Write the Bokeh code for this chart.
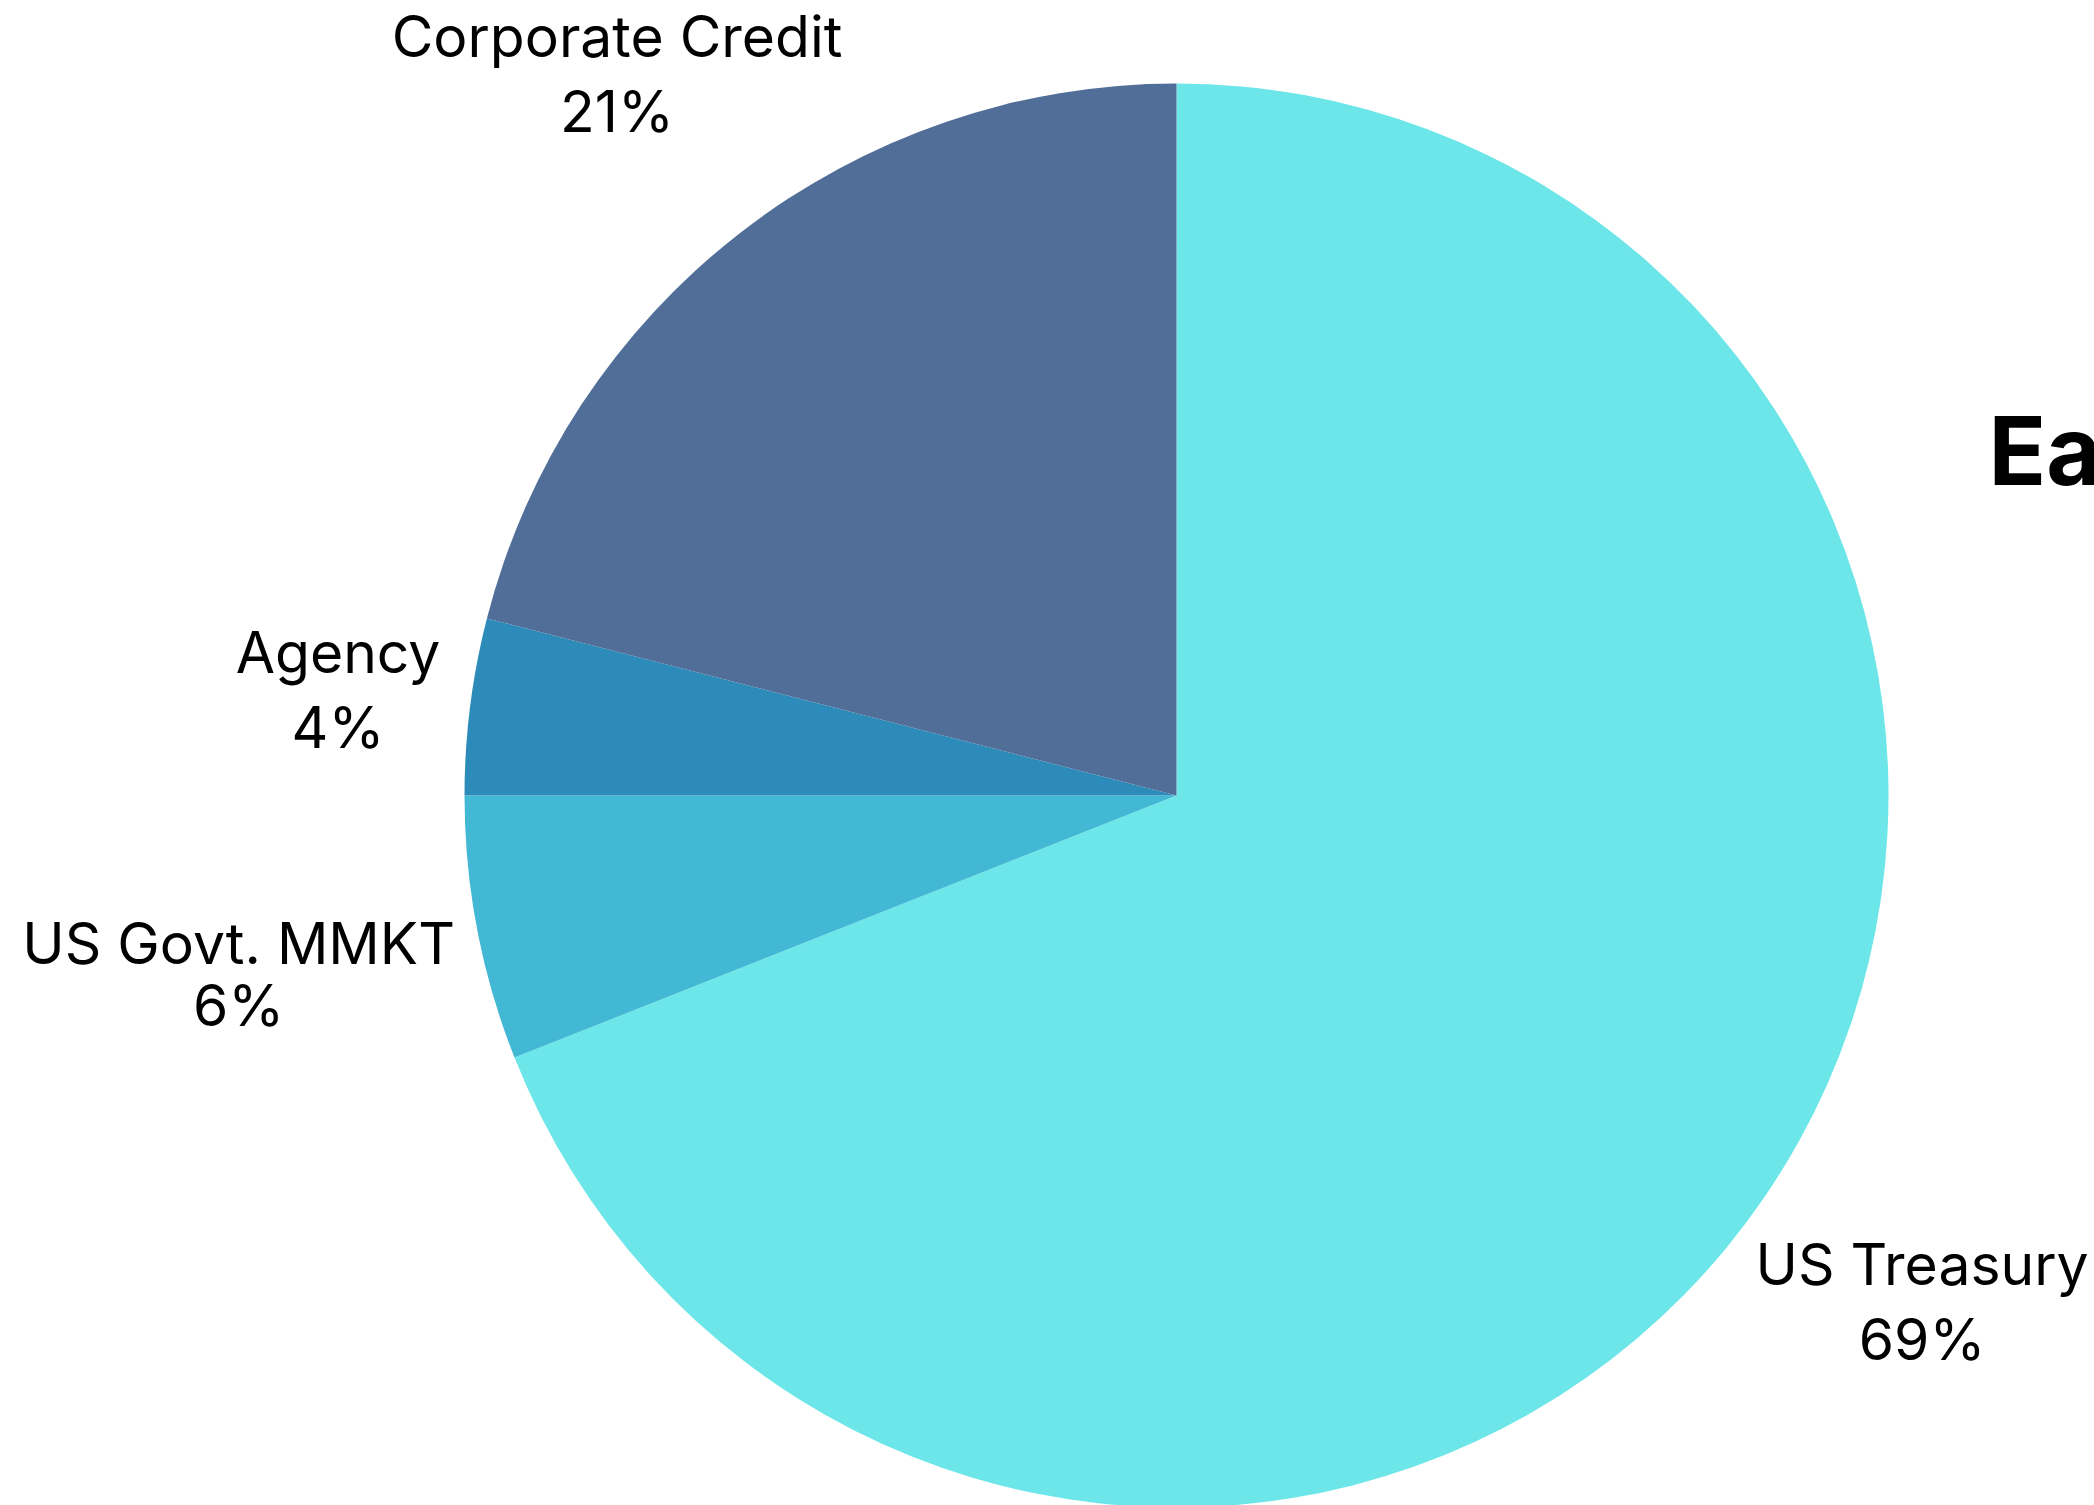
import numpy as np
from bokeh.plotting import figure
from bokeh.models import ColumnDataSource, Range1d
from bokeh.embed import file_html
from bokeh.resources import INLINE
from bokeh.core.properties import value

# ---- data ----
categories = ["US Treasury", "US Govt. MMKT", "Agency", "Corporate Credit"]
shares = [69, 6, 4, 21]
share_labels = ["69%", "6%", "4%", "21%"]
colors = ["#6ce6e8", "#42b8d5", "#2d8bba", "#506e98"]
title_text = "Ea"

# ---- layout ----
W, H = 2094, 1505
cx, cy = 1176, H - 795
R = 712
label_factor = [1.266, 1.341, 1.187, 1.282]
half_gap = [37.5, 31, 37.5, 37.5]
FONT = "Inter"

frac = np.array(shares, dtype=float) / sum(shares)
cum = np.concatenate([[0.0], np.cumsum(frac)])
start = np.pi / 2 - 2 * np.pi * cum[:-1]
end = np.pi / 2 - 2 * np.pi * cum[1:]
mid = (start + end) / 2

src = ColumnDataSource(dict(
    x=[cx] * len(shares), y=[cy] * len(shares),
    start=start, end=end, color=colors, cat=categories,
))

p = figure(width=W, height=H, x_range=Range1d(0, W), y_range=Range1d(0, H),
           output_backend="svg", toolbar_location=None, min_border=0)
p.axis.visible = False
p.grid.visible = False
p.outline_line_color = None
p.background_fill_color = "white"
p.border_fill_color = "white"

p.wedge(x="x", y="y", radius=R, start_angle="start", end_angle="end",
        direction="clock", fill_color="color", line_color=None, source=src)

lx = cx + R * np.array(label_factor) * np.cos(mid)
ly = cy + R * np.array(label_factor) * np.sin(mid)
top_src = ColumnDataSource(dict(x=lx, y=ly + np.array(half_gap), t=categories))
bot_src = ColumnDataSource(dict(x=lx, y=ly - np.array(half_gap), t=share_labels))
for s in (top_src, bot_src):
    p.text(x="x", y="y", text="t", source=s, text_align="center",
           text_baseline="middle", text_font=value(FONT),
           text_font_size="57px", text_color="#000000")

p.text(x=[1988], y=[H - 450], text=[title_text], text_align="left",
       text_baseline="middle", text_font=value(FONT),
       text_font_size="95px", text_font_style="bold", text_color="#000000")

open("out.html", "w").write(file_html(p, INLINE))
